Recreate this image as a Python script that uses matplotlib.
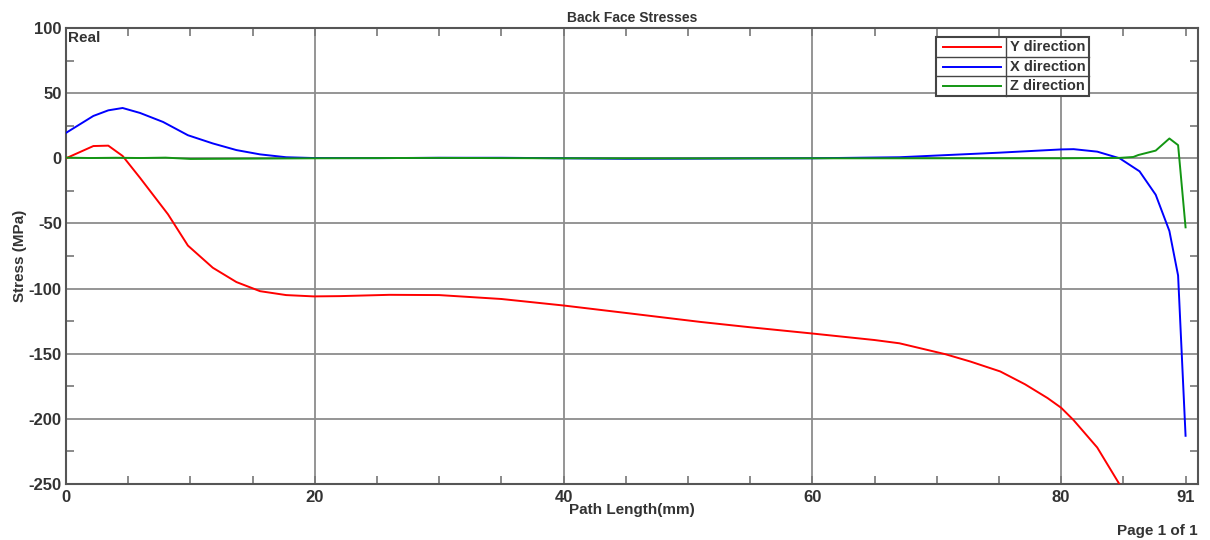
import numpy as np
import matplotlib.pyplot as plt
from matplotlib.ticker import MultipleLocator, FixedLocator

plt.rcParams['font.family'] = ['Liberation Sans', 'DejaVu Sans']
plt.rcParams['font.weight'] = 'bold'
plt.rcParams['axes.unicode_minus'] = False

# ---------------- data ----------------
y_dir_x = [0, 2.2, 3.4, 4.55, 5.95, 8.2, 9.8, 11.8, 13.7, 15.6, 17.7, 19.9,
           22, 26, 30, 35, 40, 45, 51, 55, 60, 65, 67, 70.7, 72.7, 75.1,
           77.1, 78.9, 80, 81, 82.9, 84.7, 85.5]
y_dir_s = [0, 9.4, 9.7, 1.8, -15, -43, -67, -84, -95, -102, -105, -106,
           -105.8, -104.8, -105, -108, -113, -118.7, -125.6, -129.7, -134.5,
           -139.5, -142, -150.4, -156, -163.6, -173.5, -184, -191.5, -201,
           -222, -250.4, -262]

x_dir_x = [0, 2.2, 3.4, 4.55, 5.95, 7.8, 9.8, 11.8, 13.7, 15.6, 17.7, 19.9,
           25, 30, 35, 40, 45, 50, 55, 60, 67, 75, 80, 81, 82.9, 84.7, 86.3,
           87.6, 88.7, 89.4, 90]
x_dir_s = [19.5, 32.5, 36.8, 38.6, 34.8, 27.9, 17.7, 11.4, 6.3, 3.0, 0.8, 0.2,
           0.1, 0.4, 0.4, 0, -0.4, -0.3, -0.1, 0, 0.8, 4.3, 6.8, 7, 5.1, 0,
           -10, -28, -55.8, -90, -213]

z_dir_x = [0, 2, 4, 6, 8, 10, 14, 20, 30, 40, 50, 60, 70, 80, 84.7, 85.8,
           86.2, 87.6, 88.7, 89.4, 90]
z_dir_s = [0.5, 0.2, 0.4, 0.2, 0.5, -0.5, -0.3, 0, 0.3, 0, -0.1, 0, 0, 0,
           0.3, 1.0, 2.5, 5.9, 15.2, 10.1, -53]

series_names = ["Y direction", "X direction", "Z direction"]
series_colors = ["#ff0000", "#0000ff", "#139613"]

x_major = [0, 20, 40, 60, 80, 90]
x_major_labels = ["0", "20", "40", "60", "80", "91"]

# ---------------- figure ----------------
txt = "#333333"
fig = plt.figure(figsize=(12.1, 5.4), dpi=100)
ax = fig.add_axes([66 / 1210, 1 - 484 / 540, 1132 / 1210, 456 / 540])

series = [(y_dir_x, y_dir_s), (x_dir_x, x_dir_s), (z_dir_x, z_dir_s)]
for (xs, ys), name, col in zip(series, series_names, series_colors):
    ax.plot(xs, ys, color=col, lw=1.4, label=name, zorder=3)

ax.set_xlim(0, 91)
ax.set_ylim(-250, 100)

ax.xaxis.set_major_locator(FixedLocator(x_major))
ax.set_xticklabels(x_major_labels)
ax.xaxis.set_minor_locator(MultipleLocator(5))
ax.yaxis.set_major_locator(MultipleLocator(50))
ax.yaxis.set_minor_locator(MultipleLocator(25))

ax.grid(True, which='major', color='#8c8c8c', lw=1.3)
ax.tick_params(which='both', direction='in', top=True, right=True,
               colors='#777777', labelcolor=txt, labelsize=12, width=1.2)
ax.tick_params(axis='y', which='major', length=0, pad=3)
ax.tick_params(axis='x', which='major', length=6, pad=4)
ax.tick_params(which='minor', length=6)
# last x tick is only a tick mark, no grid line
ax.xaxis.get_major_ticks()[-1].gridline.set_visible(False)
for s in ax.spines.values():
    s.set_color('#555555')
    s.set_linewidth(1.5)
for lab in ax.get_xticklabels() + ax.get_yticklabels():
    lab.set_fontweight('bold')

ax.set_title("Back Face Stresses", fontsize=10, fontweight='bold',
             color=txt, pad=4)
ax.set_xlabel("Path Length(mm)", fontsize=11, fontweight='bold',
              color=txt, labelpad=-1)
ax.set_ylabel("Stress (MPa)", fontsize=11, fontweight='bold',
              color=txt, labelpad=1)
ax.text(0.002, 0.993, "Real", transform=ax.transAxes, ha='left', va='top',
        fontsize=11, fontweight='bold', color=txt)
fig.text(1198 / 1210, 1 - 535 / 540, "Page 1 of 1", ha='right',
         va='baseline', fontsize=11, fontweight='bold', color=txt)

# ---------------- table style legend ----------------
lx0, lx1, lxd = 0.7686, 0.9037, 0.8300
ly_top, ly_bot = 0.980, 0.851
row_h = (ly_top - ly_bot) / len(series_names)
tr = ax.transAxes
ax.add_patch(plt.Rectangle((lx0, ly_bot), lx1 - lx0, ly_top - ly_bot,
                           transform=tr, facecolor='white',
                           edgecolor='#444444', lw=1.5, zorder=5))
ax.plot([lxd, lxd], [ly_bot, ly_top], transform=tr, color='#444444',
        lw=1.0, zorder=6)
for i, (name, col) in enumerate(zip(series_names, series_colors)):
    yc = ly_top - (i + 0.5) * row_h
    if i > 0:
        yl = ly_top - i * row_h
        ax.plot([lx0, lx1], [yl, yl], transform=tr, color='#444444',
                lw=1.0, zorder=6)
    ax.plot([lx0 + 0.006, lxd - 0.004], [yc, yc], transform=tr, color=col,
            lw=1.4, zorder=6)
    ax.text(lxd + 0.004, yc, name, transform=tr, ha='left', va='center',
            fontsize=10.5, fontweight='bold', color=txt, zorder=7)

fig.savefig("out.png", dpi=100)
